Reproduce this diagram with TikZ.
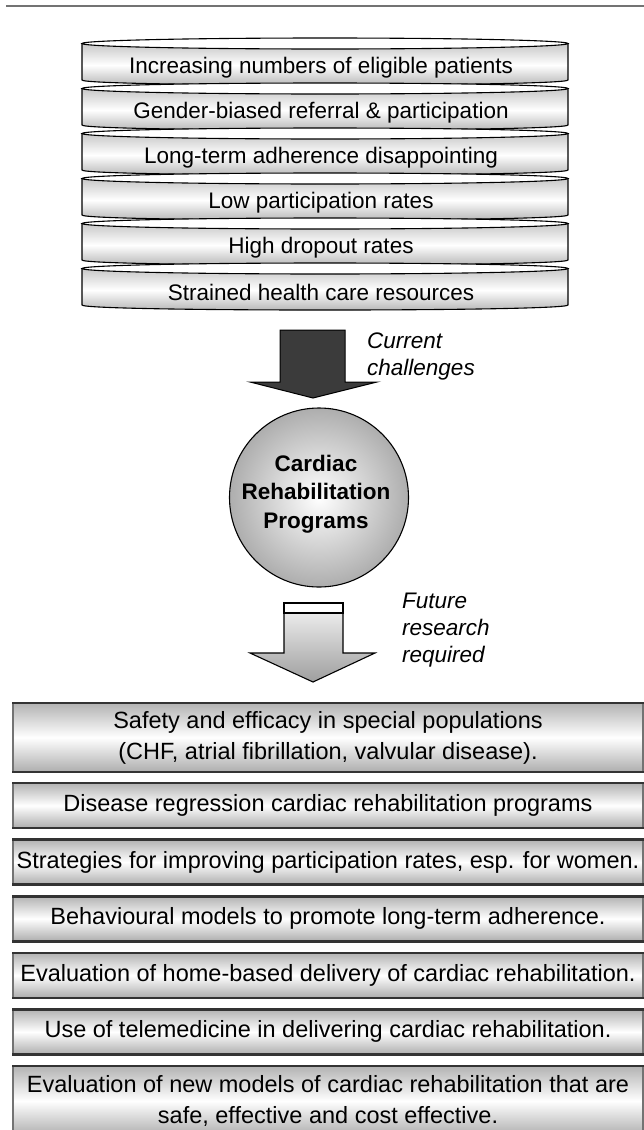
\documentclass[tikz,border=0pt]{standalone}
\usepackage{fontspec}
\setmainfont{Liberation Sans}
\newcommand\mybotbox[4]{%
  \path[top color=black!30, bottom color=black!32, middle color=white] (13,#2) rectangle (643,#3);
  \draw[black!55, line width=1.4] (13,#2) rectangle (643,#3);
  \draw[black!80, line width=2.6] (12.3,#2) -- (643.7,#2) (12.3,#3) -- (643.7,#3);
  \node[bottext] (#1) at (328,{(#2+#3)/2}) {#4};
}
\begin{document}
\begin{tikzpicture}[x=1pt,y=-1pt,
  toptext/.style={font=\fontsize{22.5}{27}\selectfont, inner sep=0pt},
  bottext/.style={font=\fontsize{23.5}{31}\selectfont, align=center, inner sep=0pt},
  lbl/.style={font=\fontsize{22.5}{27}\selectfont\itshape, align=left, anchor=west, inner sep=0pt},
  circtext/.style={font=\fontsize{22.5}{28.5}\selectfont\bfseries, align=center, inner sep=0pt},
  outline/.style={line width=1.1, draw=black}]
\useasboundingbox (0,0) rectangle (644,1130);
% top rule
\draw[black!55, line width=1.6] (6,6) -- (644,6);
% top stacked cylinders
\foreach \t [count=\i from 0] in {Increasing numbers of eligible patients,
  Gender-biased referral \& participation,
  Long-term adherence disappointing,
  Low participation rates,
  High dropout rates,
  Strained health care resources} {
  \pgfmathsetmacro\yt{43.5+45*\i}
  \pgfmathsetmacro\yb{\yt+36.5}
  \pgfmathsetmacro\yc{\yb+6.7}
  \path[top color=black!22, bottom color=black!30, middle color=white]
    (82,\yt) -- (82,\yb) .. controls (82,\yc) and (568,\yc) .. (568,\yb) -- (568,\yt) -- cycle;
  \draw[outline] (82,\yt) -- (82,\yb) .. controls (82,\yc) and (568,\yc) .. (568,\yb) -- (568,\yt);
  \draw[outline, fill=white] (325,\yt) ellipse[x radius=243, y radius=5.5];
  \node[toptext] (c\i) at (321,{67.5+45*\i}) {\t};
}
% dark arrow
\draw[line width=1, fill=black!77] (280,330) -- (345,330) -- (345,382) -- (377,382)
  -- (313,398) -- (250,382) -- (280,382) -- cycle;
\node[lbl] (challenges) at (367,356.5) {Current\\challenges};
% circle
\draw[line width=1.1, inner color=white, outer color=black!32] (319,497.5) circle[radius=89.5];
\node[circtext] (crp) at (316,494) {Cardiac\\Rehabilitation\\Programs};
% light arrow
\draw[line width=1.1, top color=black!8, bottom color=black!38]
  (284,613) -- (343,613) -- (343,653) -- (375,653) -- (313,682) -- (250,653) -- (284,653) -- cycle;
\draw[line width=1.1, fill=white] (284,603) rectangle (343,613);
\draw[line width=2.6] (283.5,603) -- (343.5,603);
\draw[line width=2] (283.5,613) -- (343.5,613);
\node[lbl] (future) at (402,630) {Future\\research\\required};
% bottom boxes
\mybotbox{b1}{703}{772}{Safety and efficacy in special populations\\(CHF, atrial fibrillation, valvular disease).}
\mybotbox{b2}{783}{828}{Disease regression cardiac rehabilitation programs}
\mybotbox{b3}{839.6}{884.6}{Strategies for improving participation rates, esp. for women.}
\mybotbox{b4}{896.2}{941.2}{Behavioural models to promote long-term adherence.}
\mybotbox{b5}{952.8}{997.8}{Evaluation of home-based delivery of cardiac rehabilitation.}
\mybotbox{b6}{1009.4}{1054.4}{Use of telemedicine in delivering cardiac rehabilitation.}
\mybotbox{b7}{1066}{1136}{Evaluation of new models of cardiac rehabilitation that are\\safe, effective and cost effective.}
\end{tikzpicture}
\end{document}
